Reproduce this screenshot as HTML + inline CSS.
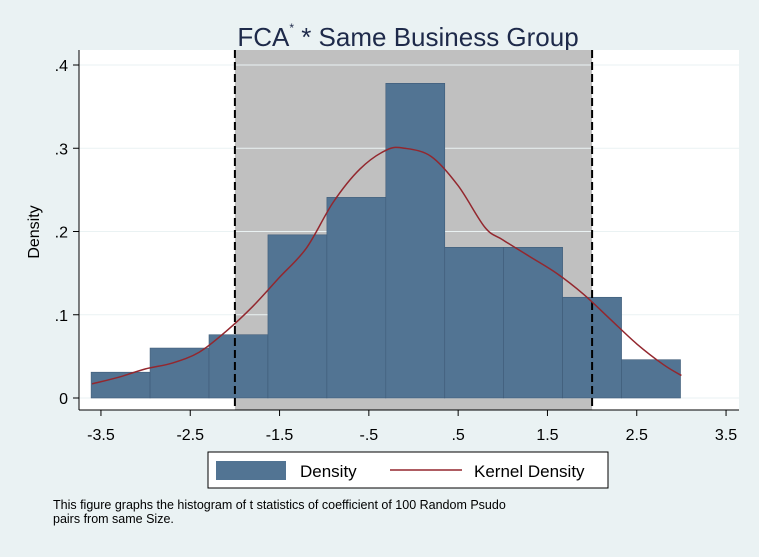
<!DOCTYPE html>
<html><head><meta charset="utf-8"><style>
body{margin:0;background:#eaf2f3;font-family:"Liberation Sans",sans-serif;}
</style></head><body>
<svg width="759" height="552" xmlns="http://www.w3.org/2000/svg" id="chart">
<rect x="0" y="0" width="759" height="552" fill="#eaf2f3"/>
<rect x="79" y="50" width="660" height="360" fill="#ffffff"/>
<text x="408" y="46" font-size="26" text-anchor="middle" fill="#1e2a4a">FCA<tspan font-size="12" dy="-14">*</tspan><tspan dy="14"> * Same Business Group</tspan></text>
<text transform="translate(39,232) rotate(-90)" font-size="16" text-anchor="middle" fill="#000">Density</text>
<g id="layer"></g>
<rect x="208" y="452" width="400" height="36" fill="#fff" stroke="#000" stroke-width="1"/>
<rect x="216" y="461" width="70" height="19" fill="#527493"/>
<text x="300" y="477" font-size="17">Density</text>
<line x1="390" y1="470" x2="462" y2="470" stroke="#93272e" stroke-width="1.5"/>
<text x="474" y="477" font-size="17">Kernel Density</text>
<text x="53" y="509" font-size="12.5">This figure graphs the histogram of t statistics of coefficient of 100 Random Psudo</text>
<text x="53" y="523" font-size="12.5">pairs from same Size.</text>
</svg>
<script>
const binStart = -3.61;
const binWidth = 0.66;
const densities = [0.031, 0.060, 0.076, 0.196, 0.241, 0.378, 0.181, 0.181, 0.121, 0.046];
const kdeX = [-3.6,-3.3,-3.0,-2.7,-2.4,-2.1,-1.8,-1.5,-1.2,-0.9,-0.6,-0.3,-0.1,0.2,0.5,0.8,1.0,1.3,1.6,1.9,2.2,2.5,2.8,3.0];
const kdeY = [0.017,0.025,0.035,0.042,0.055,0.08,0.11,0.145,0.18,0.235,0.275,0.298,0.30,0.29,0.255,0.205,0.19,0.17,0.15,0.125,0.095,0.065,0.04,0.027];
const xTicks = [-3.5,-2.5,-1.5,-0.5,0.5,1.5,2.5,3.5];
const xTickLabels = ["-3.5","-2.5","-1.5","-.5",".5","1.5","2.5","3.5"];
const yTicks = [0,0.1,0.2,0.3,0.4];
const yTickLabels = ["0",".1",".2",".3",".4"];
const critLow = -2, critHigh = 2;

const X = v => 413.5 + v*89.3;
const Y = v => 398 - v*832.5;
const NS = "http://www.w3.org/2000/svg";
const g = document.getElementById('layer');
function mk(t, a){const e=document.createElementNS(NS,t);for(const k in a)e.setAttribute(k,a[k]);g.appendChild(e);return e;}

let e = mk('rect',{x:X(critLow),y:50,width:X(critHigh)-X(critLow),height:360,fill:'#c0c0c0'});


yTicks.forEach((t,i)=>{
  let l = mk('line',{x1:79,x2:739,y1:Y(t),y2:Y(t),stroke:'#eaf2f3','stroke-width':1});
  
  
});
densities.forEach((d,i)=>{
  const x0 = binStart + i*binWidth;
  let r = mk('rect',{x:X(x0),y:Y(d),width:X(x0+binWidth)-X(x0),height:Y(0)-Y(d),fill:'#527493',stroke:'#3e5b78','stroke-width':0.6});
  
  
});
[critLow,critHigh].forEach(c=>{
  let l = mk('line',{x1:X(c),x2:X(c),y1:50,y2:410,stroke:'#000','stroke-width':2,'stroke-dasharray':'8,4'});
  
  
});
const pts = kdeX.map((x,i)=>[X(x),Y(kdeY[i])]);
let d = 'M'+pts[0][0]+','+pts[0][1];
for(let i=0;i<pts.length-1;i++){
  const p0=pts[Math.max(0,i-1)],p1=pts[i],p2=pts[i+1],p3=pts[Math.min(pts.length-1,i+2)];
  const c1=[p1[0]+(p2[0]-p0[0])/6,p1[1]+(p2[1]-p0[1])/6];
  const c2=[p2[0]-(p3[0]-p1[0])/6,p2[1]-(p3[1]-p1[1])/6];
  d+=' C'+c1+' '+c2+' '+p2;
}
let p = mk('path',{d:d,fill:'none',stroke:'#93272e','stroke-width':1.5});


let ya = mk('line',{x1:79,x2:79,y1:50,y2:410,stroke:'#000','stroke-width':1});


let xa = mk('line',{x1:79,x2:739,y1:410,y2:410,stroke:'#000','stroke-width':1});


yTicks.forEach((t,i)=>{
  let l = mk('line',{x1:73,x2:79,y1:Y(t),y2:Y(t),stroke:'#000'});
  
  
  let tx = mk('text',{x:68,y:Y(t)+6,'font-size':16,'text-anchor':'end'});
  tx.textContent = yTickLabels[i];
  
  
});
xTicks.forEach((t,i)=>{
  let l = mk('line',{x1:X(t),x2:X(t),y1:410,y2:416,stroke:'#000'});
  
  
  let tx = mk('text',{x:X(t),y:440,'font-size':16,'text-anchor':'middle'});
  tx.textContent = xTickLabels[i];
  
  
});
</script>
</body></html>
